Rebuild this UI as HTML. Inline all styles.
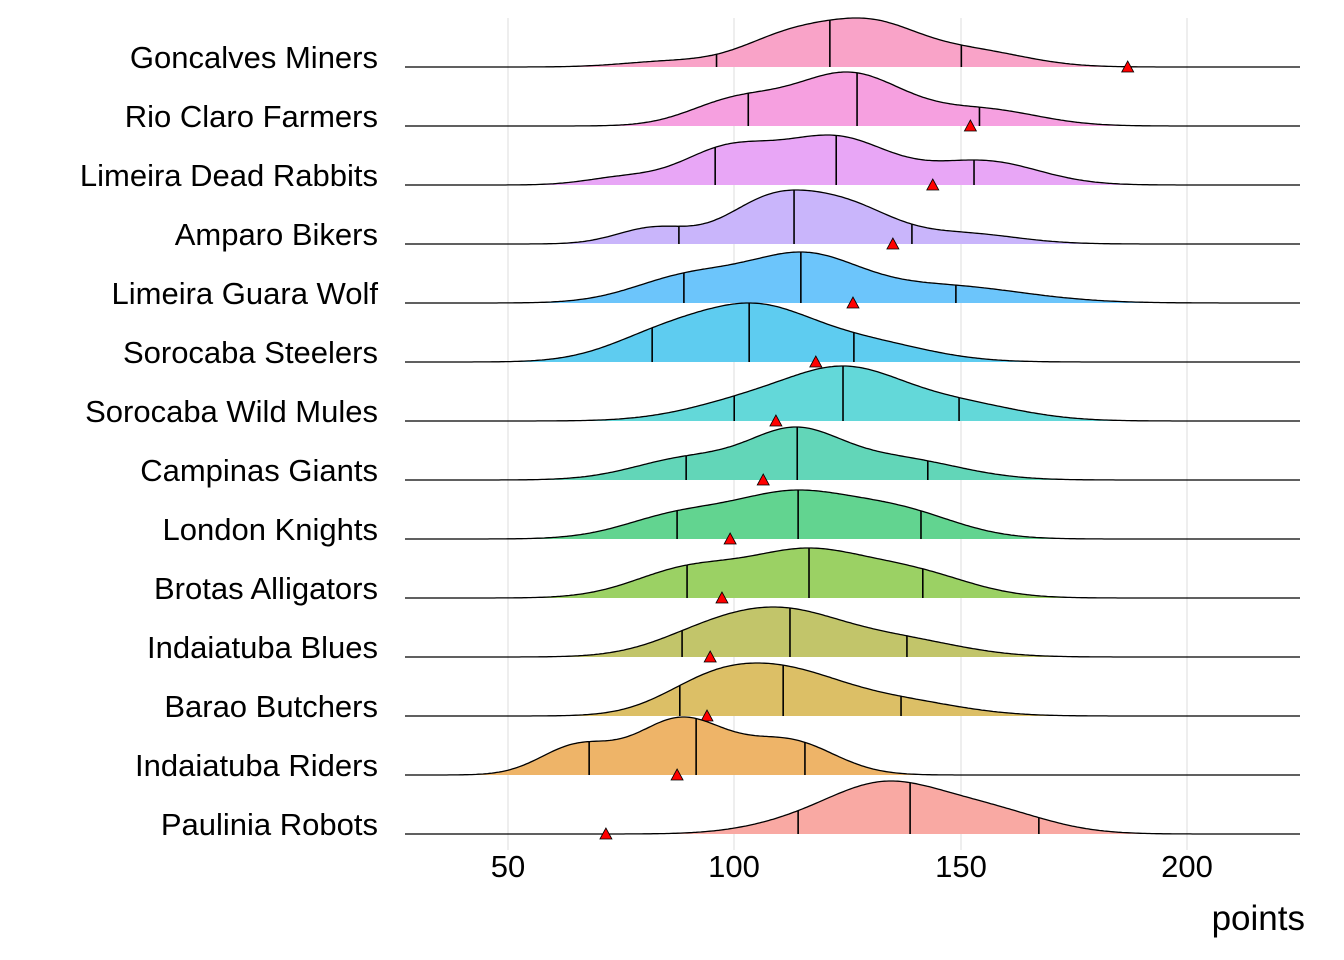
<!DOCTYPE html>
<html><head><meta charset="utf-8"><style>
body{margin:0;background:#fff}
svg{display:block;font-family:"Liberation Sans",Arial,sans-serif}
</style></head><body>
<svg id="s" width="1344" height="960" xmlns="http://www.w3.org/2000/svg">
<g id="grid" stroke="#e3e3e3" stroke-width="1.2">
<line x1="508" y1="18" x2="508" y2="850"/><line x1="734" y1="18" x2="734" y2="850"/>
<line x1="961" y1="18" x2="961" y2="850"/><line x1="1187" y1="18" x2="1187" y2="850"/>
</g>
<g id="r"></g>
<g font-size="31" fill="#000" text-anchor="middle">
<text x="508" y="877">50</text><text x="734" y="877">100</text><text x="961" y="877">150</text><text x="1187" y="877">200</text>
</g>
<text x="1305" y="930" font-size="35" text-anchor="end" fill="#000">points</text>
</svg>
<script>
var X=function(v){return 508+(v-50)*4.5333;};
var D=[
["Goncalves Miners","#F9A3C8",49,[[113,11,1],[131,10,1],[152,12,0.55],[85,10,0.15]],[96,121,150],186.7],
["Rio Claro Farmers","#F6A0E0",54,[[100,10,0.5],[125,12,1.3],[155,12,0.4]],[103,127,154],152],
["Limeira Dead Rabbits","#E8A6F6",50,[[98,10,0.6],[122,12,1],[155,12,0.5],[75,8,0.1]],[95.7,122.4,152.8],143.7],
["Amparo Bikers","#C9B5FB",54,[[82,8,0.3],[108,10,1],[125,10,0.8],[150,12,0.3]],[87.7,113.1,139.1],134.9],
["Limeira Guara Wolf","#6CC5FB",51,[[90,12,0.6],[115,12,1],[145,18,0.6]],[88.8,114.6,148.8],126.1],
["Sorocaba Steelers","#5ECCF0",59,[[85,12,0.6],[105,12,1],[128,14,0.5]],[81.8,103.2,126.3],117.9],
["Sorocaba Wild Mules","#63D8D9",55,[[105,14,0.6],[125,12,1],[148,14,0.5]],[99.9,123.9,149.5],109.1],
["Campinas Giants","#62D6B8",53,[[90,12,0.6],[113,10,1],[135,14,0.7]],[89.3,113.8,142.6],106.3],
["London Knights","#62D490",49,[[88,12,0.6],[112,12,1],[135,13,0.8]],[87.3,114,141.1],99],
["Brotas Alligators","#9BD164",50,[[90,12,0.7],[115,12,1],[138,13,0.7]],[89.5,116.4,141.5],97.2],
["Indaiatuba Blues","#C2C56A",50,[[95,12,0.7],[112,12,1],[135,14,0.6]],[88.4,112.2,138],94.6],
["Barao Butchers","#DCBF66",53,[[95,11,0.8],[112,12,1],[135,14,0.5]],[87.9,110.7,136.7],93.9],
["Indaiatuba Riders","#EEB468",58,[[65,8,0.4],[88,10,1],[112,10,0.6]],[67.9,91.5,115.5],87.3],
["Paulinia Robots","#F9A9A3",53,[[133,12,1],[155,13,0.6],[115,12,0.25]],[114,138.7,167.1],71.6]
];
var g=document.getElementById("r"),h="";
function dens(m,v){var s=0;for(var i=0;i<m.length;i++){var z=(v-m[i][0])/m[i][1];s+=m[i][2]/m[i][1]*Math.exp(-0.5*z*z);}return s;}
D.forEach(function(d,k){
 var b=67+k*59.0,m=d[3],mx=0,pts=[];
 for(var v=27.5;v<=224.5;v+=0.5){var y=dens(m,v);pts.push([v,y]);if(y>mx)mx=y;}
 var sc=d[2]/mx,p="M405,"+b;
 pts.forEach(function(q){p+=" L"+X(q[0]).toFixed(1)+","+(b-q[1]*sc).toFixed(1);});
 p+=" L1300,"+b;
 h+='<path d="'+p+' Z" fill="'+d[1]+'" stroke="none"/>';
 d[4].forEach(function(q){h+='<line x1="'+X(q)+'" y1="'+b+'" x2="'+X(q)+'" y2="'+(b-dens(m,q)*sc)+'" stroke="#000" stroke-width="1.6"/>';});
 h+='<path d="'+p+'" fill="none" stroke="#000" stroke-width="1.3"/>';
 var tx=X(d[5]);
 h+='<polygon points="'+(tx-6)+','+(b+5)+' '+(tx+6)+','+(b+5)+' '+tx+','+(b-6)+'" fill="#ff0000" stroke="#000" stroke-width="0.8"/>';
 h+='<text x="378" y="'+(b+1)+'" font-size="31" text-anchor="end" fill="#000">'+d[0]+'</text>';
});
g.innerHTML=h;
</script>
</body></html>
